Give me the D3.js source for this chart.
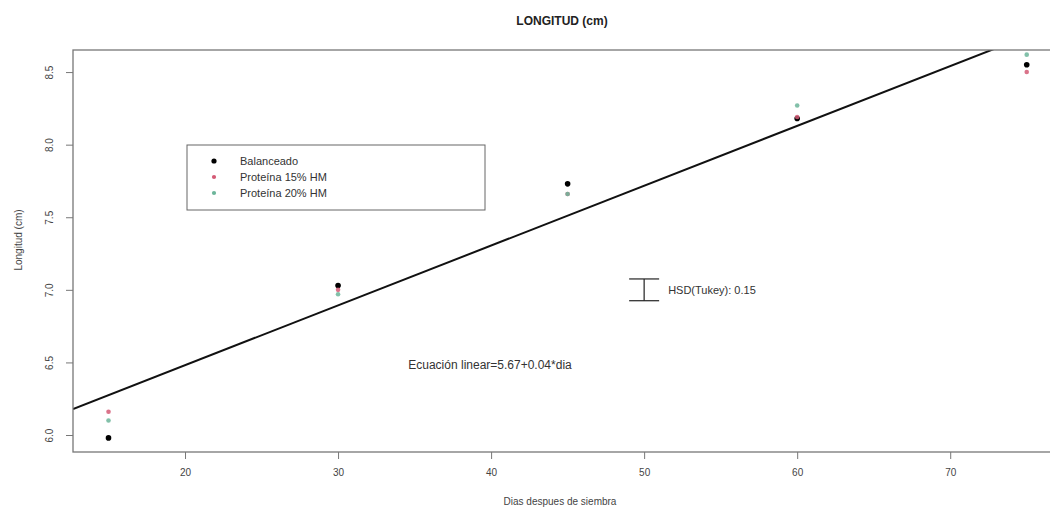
<!DOCTYPE html>
<html><head><meta charset="utf-8">
<script src="https://cdn.jsdelivr.net/npm/d3@7"></script>
<style>body{margin:0;background:#fff}svg{font-family:"Liberation Sans",Arial,sans-serif}</style>
</head><body><svg id="c" width="1050" height="512"></svg>
<script>
const dias = [15, 30, 45, 60, 75];
const seriesNames = ["Balanceado", "Proteína 15% HM", "Proteína 20% HM"];
const balanceado = [5.98, 7.03, 7.73, 8.18, 8.55];
const proteina15 = [6.16, 7.00, 7.66, 8.19, 8.50];
const proteina20 = [6.10, 6.97, 7.66, 8.27, 8.62];
const seriesColors = ["#000000", "#d45a75", "#6cb59a"];
const xTicks = [20, 30, 40, 50, 60, 70];
const yTicks = [6.0, 6.5, 7.0, 7.5, 8.0, 8.5];
const fitIntercept = 5.657, fitSlope = 0.0412;
const hsd = 0.15, hsdX = 50, hsdY = 7.0;

const svg = d3.select("#c");
const L = 73, R = 1063, T = 50, B = 452;
const x = d3.scaleLinear().domain([12.68, 77.37]).range([L, R]);
const y = d3.scaleLinear().domain([5.883, 8.652]).range([B, T]);

svg.append("text").attr("x", 562).attr("y", 25).attr("text-anchor", "middle")
  .attr("font-weight", "bold").attr("font-size", 12).attr("fill", "#222").text("LONGITUD (cm)");

const clip = svg.append("defs").append("clipPath").attr("id", "pc");
clip.append("rect").attr("x", L).attr("y", T).attr("width", R - L).attr("height", B - T);

const g = svg.append("g").attr("clip-path", "url(#pc)");
g.append("line").attr("x1", x(12.68)).attr("y1", y(fitIntercept + fitSlope * 12.68))
  .attr("x2", x(77.37)).attr("y2", y(fitIntercept + fitSlope * 77.37))
  .attr("stroke", "#111").attr("stroke-width", 2);

const series = [balanceado, proteina15, proteina20];
series.forEach((vals, i) => {
  svg.append("g").selectAll("circle").data(vals).join("circle")
    .attr("cx", (d, j) => x(dias[j])).attr("cy", d => y(d))
    .attr("r", i === 0 ? 2.8 : 2.3).attr("fill", seriesColors[i]).attr("opacity", i === 0 ? 1 : 0.85);
});

svg.append("rect").attr("x", L).attr("y", T).attr("width", R - L).attr("height", B - T)
  .attr("fill", "none").attr("stroke", "#777").attr("stroke-width", 1.3);

const xa = svg.append("g").attr("transform", `translate(0,${B})`)
  .call(d3.axisBottom(x).tickValues(xTicks).tickSize(7).tickPadding(10).tickFormat(d3.format("d")));
const ya = svg.append("g").attr("transform", `translate(${L},0)`)
  .call(d3.axisLeft(y).tickValues(yTicks).tickSize(7).tickFormat(d3.format(".1f")));
[xa, ya].forEach(a => {
  a.select(".domain").remove();
  a.selectAll("line").attr("stroke", "#777");
  a.selectAll("text").attr("font-size", 10).attr("fill", "#444").attr("font-family", "Liberation Sans, Arial, sans-serif");
});
ya.selectAll(".tick text").attr("text-anchor", "middle").attr("x", 0).attr("dy", 0)
  .attr("transform", "translate(-20,0) rotate(-90)");

svg.append("text").attr("x", 560).attr("y", 505).attr("text-anchor", "middle")
  .attr("font-size", 10).attr("fill", "#444").text("Dias despues de siembra");
svg.append("text").attr("transform", "translate(22,240) rotate(-90)").attr("text-anchor", "middle")
  .attr("font-size", 10).attr("fill", "#444").text("Longitud (cm)");

svg.append("rect").attr("x", 187).attr("y", 145).attr("width", 298).attr("height", 65)
  .attr("fill", "#fff").attr("stroke", "#666").attr("stroke-width", 1);
seriesNames.forEach((n, i) => {
  svg.append("circle").attr("cx", 214).attr("cy", 161 + i * 16).attr("r", i === 0 ? 2.6 : 2.1)
    .attr("fill", seriesColors[i]);
  svg.append("text").attr("x", 240).attr("y", 165 + i * 16).attr("font-size", 11)
    .attr("fill", "#333").text(n);
});

const hx = x(hsdX);
svg.append("line").attr("x1", hx).attr("x2", hx).attr("y1", y(hsdY + hsd / 2)).attr("y2", y(hsdY - hsd / 2))
  .attr("stroke", "#222").attr("stroke-width", 1.2);
[hsdY + hsd / 2, hsdY - hsd / 2].forEach(v => {
  svg.append("line").attr("x1", hx - 15).attr("x2", hx + 15).attr("y1", y(v)).attr("y2", y(v))
    .attr("stroke", "#222").attr("stroke-width", 1.2);
});
svg.append("text").attr("x", hx + 24).attr("y", y(hsdY) + 4).attr("font-size", 11).attr("fill", "#333")
  .text("HSD(Tukey): " + hsd);

svg.append("text").attr("x", 490).attr("y", 369).attr("text-anchor", "middle").attr("font-size", 12)
  .attr("fill", "#333").text("Ecuación linear=5.67+0.04*dia");
</script></body></html>
